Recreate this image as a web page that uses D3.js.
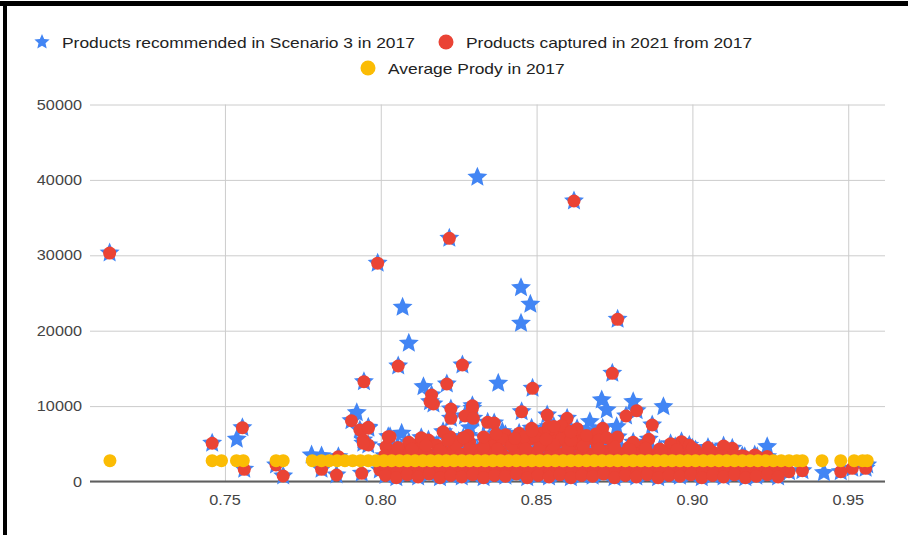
<!DOCTYPE html>
<html>
<head>
<meta charset="utf-8">
<script src="https://cdn.jsdelivr.net/npm/d3@7"></script>
<style>
  body { margin: 0; background: #fff; }
  text { font-family: Arial, "Liberation Sans", sans-serif; }
</style>
</head>
<body>
<div id="scatter"></div>
<script>
// Series data
var seriesNames = ["Products recommended in Scenario 3 in 2017", "Products captured in 2021 from 2017", "Average Prody in 2017"];
var xTicks = [0.75, 0.80, 0.85, 0.90, 0.95];
var yTicks = [0, 10000, 20000, 30000, 40000, 50000];

// points that are both recommended and captured (star with red dot)
var captured = [
  [0.713,30300],[0.862,37200],[0.822,32250],[0.799,28950],[0.876,21510],[0.8056,15320],[0.8262,15450],
  [0.8743,14350],[0.8212,12930],[0.8487,12360],[0.7946,13240],[0.8163,11470],[0.8169,10280],[0.8158,10580],
  [0.8225,9615],[0.8294,10050],[0.8294,9710],[0.8225,8380],[0.827,8690],[0.8297,8380],[0.8343,7850],
  [0.8364,7760],[0.7906,8060],[0.7933,6830],[0.796,7190],[0.796,7060],[0.7944,5500],[0.796,4840],
  [0.7944,5070],[0.803,5940],[0.8017,4620],[0.8024,5940],[0.8115,4840],[0.8153,5500],[0.8222,5940],
  [0.8356,5500],[0.8452,9260],[0.8534,8820],[0.8598,8380],[0.8821,9390],[0.8787,8690],[0.8871,7490],
  [0.8712,7060],[0.8444,6390],[0.8484,7060],[0.8538,7270],[0.8597,6830],[0.8671,5730],[0.8965,5280],
  [0.9128,4400],[0.901,4180],[0.931,1300],[0.9353,1430],[0.9476,1300],[0.9513,1750],[0.9556,1750],
  [0.7459,5070],[0.7556,7140],[0.7562,1620],[0.7664,2190],[0.7687,730],[0.781,1620],[0.7858,860],
  [0.7864,3290],[0.7939,1090],[0.7997,1525],
  // band above the average line
  [0.8035,3500],[0.8065,4200],[0.8095,3600],[0.8125,4400],[0.815,3700],[0.818,4800],[0.8205,3900],
  [0.8235,4500],[0.826,3600],[0.8285,5200],[0.831,4100],[0.8335,3500],[0.836,4700],[0.8385,4000],
  [0.841,5300],[0.843,3700],[0.8455,4500],[0.848,5600],[0.85,3900],[0.8525,4800],[0.855,4200],
  [0.857,5400],[0.8595,3700],[0.862,4900],[0.8645,4300],[0.867,3600],[0.8695,4700],[0.872,4000],
  [0.8745,5100],[0.877,3700],[0.8795,4500],[0.882,3900],[0.8845,4800],[0.887,3500],[0.8895,4300],
  [0.892,3700],[0.8945,4600],[0.8975,3600],[0.9005,4000],[0.9035,3500],[0.9065,3900],[0.9095,3400],
  [0.913,3700],[0.916,3400],[0.92,3500],[0.924,3300],
  [0.84,6200],[0.846,5900],[0.8515,6400],[0.856,6100],[0.858,5700],[0.863,6000],[0.865,5300],
  [0.869,6300],[0.858,7400],[0.863,7000],[0.854,6800],[0.839,5600],[0.828,6100],[0.82,6600],
  [0.825,5300],[0.813,5800],[0.809,5200],[0.87,5500],[0.876,5900],[0.881,5200],[0.886,5600],
  [0.893,5000],[0.899,4800],[0.905,4500],[0.91,4700],
  [0.8012,3400],[0.8048,3700],[0.8082,3300],[0.8118,3600],[0.8152,3400],[0.8188,3700],[0.8222,3300],
  [0.8258,3500],[0.8292,3700],[0.8328,3400],[0.8362,3600],[0.8398,3300],[0.8432,3700],[0.8468,3400],
  [0.8502,3600],[0.8538,3300],[0.8572,3700],[0.8608,3400],[0.8642,3600],[0.8678,3300],[0.8712,3700],
  [0.8748,3400],[0.8782,3600],[0.8818,3300],[0.8852,3700],[0.8888,3400],[0.8922,3500],[0.8958,3300],
  [0.8992,3600],[0.9028,3300],[0.9062,3500],[0.9098,3300],[0.9132,3400],[0.9168,3300],[0.9208,3300],
  [0.8055,4500],[0.81,4300],[0.8145,4800],[0.819,4200],[0.824,4900],[0.8285,4400],[0.833,4600],
  [0.8375,4300],[0.842,4800],[0.8465,4300],[0.851,4600],[0.8555,4900],[0.86,4400],[0.865,4700],
  [0.87,4300],[0.875,4600],[0.88,4200],[0.885,4400],[0.89,4100],[0.895,4200],[0.9,4400],[0.9055,4100],
  [0.8215,5500],[0.8265,5800],[0.833,5900],[0.837,6300],[0.843,5700],[0.8495,6000],[0.853,5600],
  [0.861,5500],[0.866,6100],[0.8725,5800],[0.8485,6700],[0.8555,7300],[0.861,6600],
  // band below the average line
  [0.8,1900],[0.8035,1500],[0.807,2000],[0.8105,1700],[0.814,1900],[0.8175,1600],[0.821,2000],
  [0.8245,1800],[0.828,1600],[0.8315,2000],[0.835,1700],[0.8385,1900],[0.842,1600],[0.8455,2000],
  [0.849,1800],[0.8525,1600],[0.856,1900],[0.8595,1700],[0.863,2000],[0.8665,1600],[0.87,1900],
  [0.8735,1700],[0.877,2000],[0.8805,1600],[0.884,1800],[0.8875,1900],[0.891,1600],[0.8945,2000],
  [0.898,1700],[0.9015,1900],[0.905,1600],[0.9085,2000],[0.912,1700],[0.9155,1800],[0.919,1600],
  [0.9225,1900],[0.926,1500],[0.9295,1800],
  [0.8018,1250],[0.8053,1150],[0.8088,1350],[0.8123,1200],[0.8158,1300],[0.8193,1150],[0.8228,1350],
  [0.8263,1250],[0.8298,1200],[0.8333,1350],[0.8368,1150],[0.8403,1300],[0.8438,1250],[0.8473,1200],
  [0.8508,1350],[0.8543,1150],[0.8578,1300],[0.8613,1250],[0.8648,1200],[0.8683,1350],[0.8718,1150],
  [0.8753,1300],[0.8788,1250],[0.8823,1200],[0.8858,1350],[0.8893,1150],[0.8928,1300],[0.8963,1250],
  [0.8998,1200],[0.9033,1350],[0.9068,1150],[0.9103,1300],[0.9138,1250],[0.9173,1200],[0.9208,1350],
  [0.9243,1150],[0.9278,1250],
  [0.8015,800],[0.805,500],[0.8085,900],[0.812,600],[0.8155,1000],[0.819,500],[0.8225,800],
  [0.826,600],[0.8295,900],[0.833,500],[0.8365,800],[0.84,700],[0.8435,1000],[0.847,500],
  [0.8505,800],[0.854,600],[0.8575,900],[0.861,500],[0.8645,800],[0.868,700],[0.8715,1000],
  [0.875,500],[0.8785,800],[0.882,600],[0.8855,900],[0.889,500],[0.8925,800],[0.896,700],
  [0.8995,900],[0.903,500],[0.9065,800],[0.91,600],[0.9135,900],[0.917,500],[0.9205,700],
  [0.924,900],[0.9275,600]
];

// recommended products that were not captured (star only)
var recommendedOnly = [
  [0.831,40350],[0.807,23100],[0.845,25700],[0.848,23500],[0.845,20980],[0.809,18330],[0.8137,12570],
  [0.8377,13020],[0.7923,9120],[0.8067,6390],[0.7538,5600],[0.7778,3510],[0.781,3400],[0.8709,10810],
  [0.8725,9480],[0.8671,7930],[0.881,10580],[0.8907,9920],[0.8757,7270],[0.924,4620],[0.9422,1170],
  [0.9561,2190],[0.8286,7100],[0.839,6600],[0.866,6700]
];

// x positions of the average Prody points, all at the same value
var prodyX = [
  0.7131,0.7459,0.7489,0.7537,0.7559,0.7664,0.7687,
  0.778,0.781,0.7835,0.786,0.7885,0.791,0.7935,0.796,0.7985,0.801,0.8035,0.806,0.8085,0.811,
  0.8135,0.816,0.8185,0.821,0.8235,0.826,0.8285,0.831,0.8335,0.836,0.8385,0.841,0.8435,0.846,
  0.8485,0.851,0.8535,0.856,0.8585,0.861,0.8635,0.866,0.8685,0.871,0.8735,0.876,0.8785,0.881,
  0.8835,0.886,0.8885,0.891,0.8935,0.896,0.8985,0.901,0.9035,0.906,0.9085,0.911,0.9135,0.916,
  0.9185,0.921,0.9235,0.926,0.9285,0.931,0.9335,0.9353,
  0.9416,0.9476,0.9519,0.9546,0.9561
];
var prodyAvg = 2760;

var svgWidth = 908;
var svgHeight = 535;
var plot = { left: 90, right: 885, top: 104.5, bottom: 481.5 };
var stretch = 1.16;

var svg = d3.select("#scatter")
  .append("svg")
  .attr("width", svgWidth)
  .attr("height", svgHeight);

svg.append("rect").attr("width", svgWidth).attr("height", svgHeight).attr("fill", "#fff");

var xScale = d3.scaleLinear().domain([0.7067, 0.9618]).range([plot.left, plot.right]);
var yScale = d3.scaleLinear().domain([0, 50000]).range([plot.bottom, plot.top]);

// star symbol a bit fatter than d3's own
var fatStar = {
  draw: function(context, size) {
    var R = Math.sqrt(size), r = R * 0.46;
    for (var i = 0; i < 10; i++) {
      var a = -Math.PI / 2 + i * Math.PI / 5;
      var rr = i % 2 ? r : R;
      if (i === 0) context.moveTo(rr * Math.cos(a), rr * Math.sin(a));
      else context.lineTo(rr * Math.cos(a), rr * Math.sin(a));
    }
    context.closePath();
  }
};

// gridlines
svg.append("g")
  .attr("transform", `translate(0, ${plot.bottom})`)
  .call(d3.axisBottom(xScale).tickValues(xTicks).tickSize(-(plot.bottom - plot.top)).tickFormat(""))
  .call(g => g.select(".domain").remove())
  .call(g => g.selectAll("line").attr("stroke", "#cccccc"));

svg.append("g")
  .attr("transform", `translate(${plot.left}, 0)`)
  .call(d3.axisLeft(yScale).tickValues(yTicks).tickSize(-(plot.right - plot.left)).tickFormat(""))
  .call(g => g.select(".domain").remove())
  .call(g => g.selectAll("line").attr("stroke", "#cccccc"));

// baseline
svg.append("line")
  .attr("x1", plot.left).attr("x2", plot.right)
  .attr("y1", yScale(0)).attr("y2", yScale(0))
  .attr("stroke", "#5f5f5f").attr("stroke-width", 2);

// tick labels
svg.selectAll(".xlab").data(xTicks).enter().append("text")
  .attr("class", "xlab")
  .attr("transform", d => `translate(${xScale(d)}, 505) scale(${stretch},1)`)
  .attr("text-anchor", "middle")
  .attr("font-size", "14px")
  .attr("fill", "#444")
  .text(d => d.toFixed(2));

svg.selectAll(".ylab").data(yTicks).enter().append("text")
  .attr("class", "ylab")
  .attr("transform", d => `translate(82, ${yScale(d) + 5}) scale(${stretch},1)`)
  .attr("text-anchor", "end")
  .attr("font-size", "14px")
  .attr("fill", "#444")
  .text(d => d);

// stars: every recommended product
var stars = captured.concat(recommendedOnly);
svg.append("g").selectAll("path")
  .data(stars)
  .enter()
  .append("path")
  .attr("transform", d => `translate(${xScale(d[0])}, ${yScale(d[1])})`)
  .attr("d", d3.symbol().type(fatStar).size(110))
  .attr("fill", "#4285f4");

// captured products
svg.append("g").selectAll("circle")
  .data(captured)
  .enter()
  .append("circle")
  .attr("cx", d => xScale(d[0]))
  .attr("cy", d => yScale(d[1]))
  .attr("r", 6.5)
  .attr("fill", "#ea4335");

// average prody
svg.append("g").selectAll("circle")
  .data(prodyX)
  .enter()
  .append("circle")
  .attr("cx", d => xScale(d))
  .attr("cy", yScale(prodyAvg))
  .attr("r", 6.5)
  .attr("fill", "#fbbc04");

// legend
var legendItems = [
  { name: seriesNames[0], x: 42, y: 42, shape: "star", color: "#4285f4" },
  { name: seriesNames[1], x: 446, y: 42, shape: "circle", color: "#ea4335" },
  { name: seriesNames[2], x: 368, y: 68, shape: "circle", color: "#fbbc04" }
];
var legend = svg.append("g").selectAll("g")
  .data(legendItems)
  .enter()
  .append("g")
  .attr("transform", d => `translate(${d.x}, ${d.y})`);

legend.filter(d => d.shape === "star").append("path")
  .attr("d", d3.symbol().type(fatStar).size(64))
  .attr("fill", d => d.color);
legend.filter(d => d.shape === "circle").append("circle")
  .attr("r", 7.5)
  .attr("fill", d => d.color);
legend.append("text")
  .attr("transform", `translate(20, 5.5) scale(${stretch},1)`)
  .attr("font-size", "15px")
  .attr("fill", "#222")
  .text(d => d.name);

// black frame from the screenshot
svg.append("rect").attr("x", 0).attr("y", 1).attr("width", svgWidth).attr("height", 5).attr("fill", "#000");
svg.append("rect").attr("x", 3).attr("y", 1).attr("width", 4).attr("height", svgHeight).attr("fill", "#000");
</script>
</body>
</html>
